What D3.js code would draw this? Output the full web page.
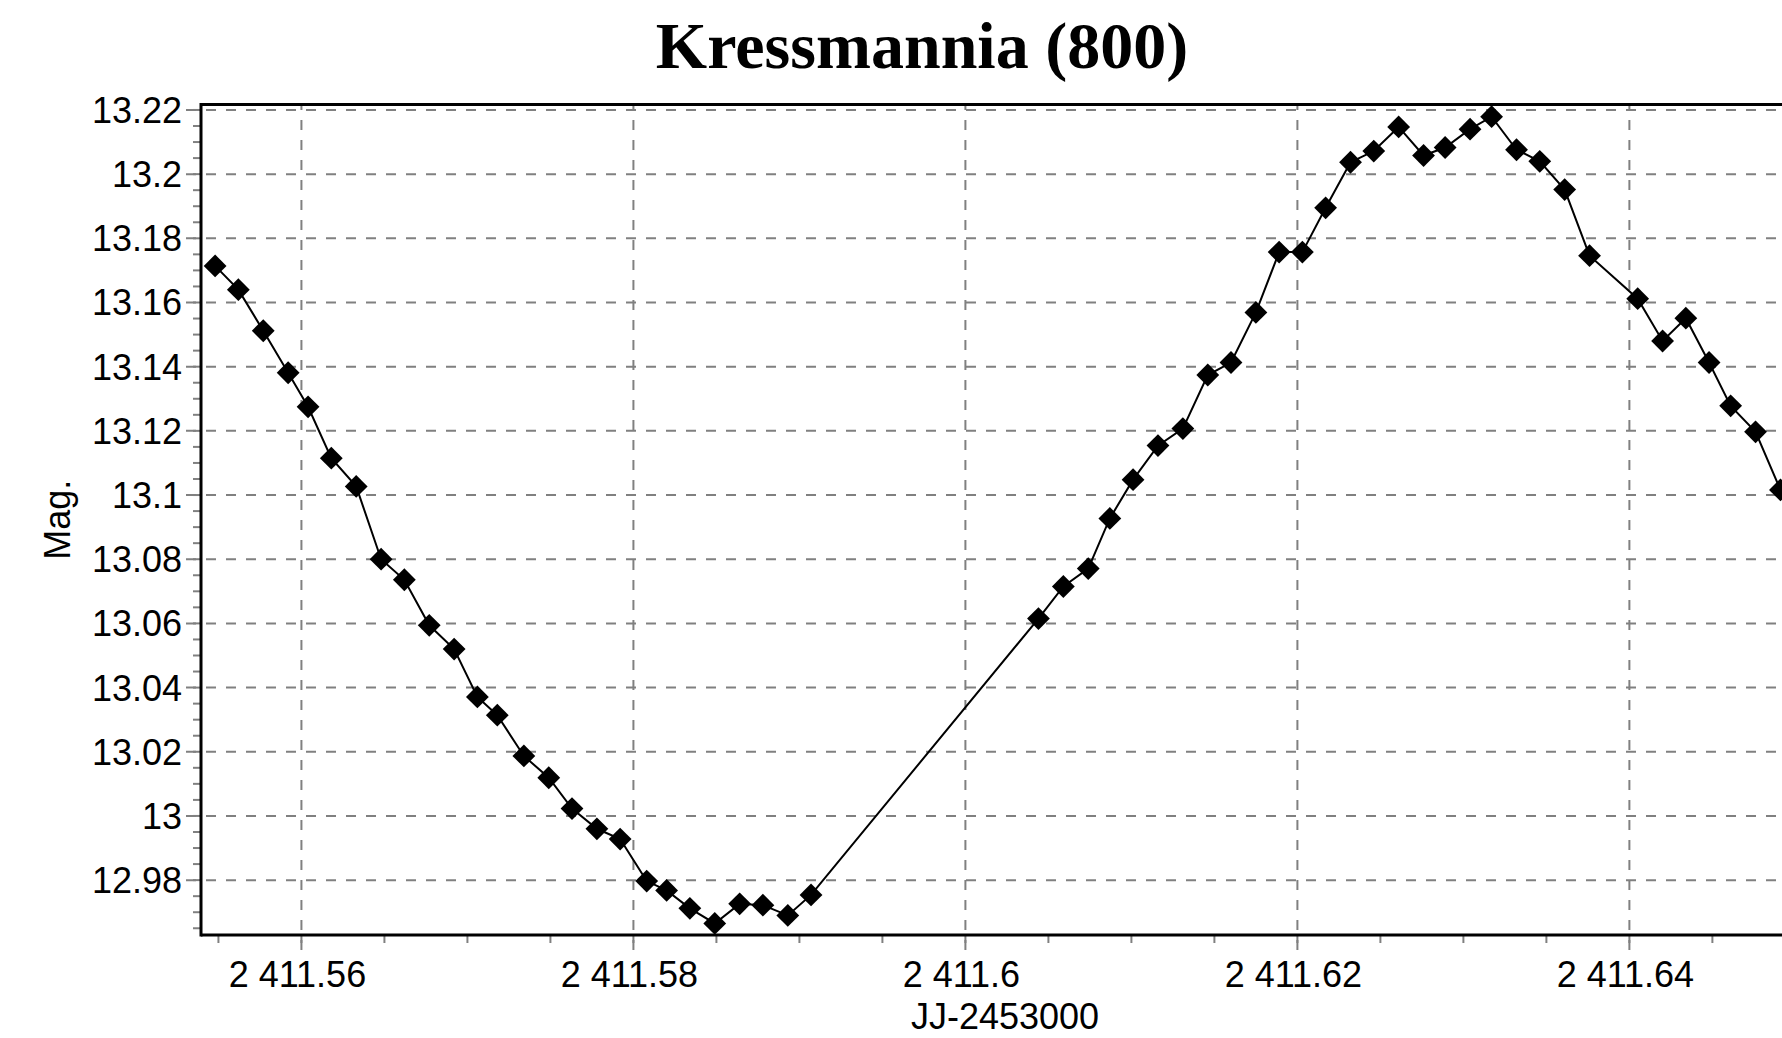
<!DOCTYPE html>
<html>
<head>
<meta charset="utf-8">
<script src="https://cdn.jsdelivr.net/npm/d3@7"></script>
<style>
  html, body { margin: 0; padding: 0; background: #fff; }
  #chart { width: 1782px; height: 1038px; overflow: hidden; }
</style>
</head>
<body>
<div id="chart"></div>
<script>
"use strict";

var jd = [
  2411.5548, 2411.5562, 2411.5577, 2411.5592, 2411.5604, 2411.5618, 2411.5633,
  2411.5648, 2411.5662, 2411.5677, 2411.5692, 2411.5706, 2411.5718, 2411.5734,
  2411.5749, 2411.5763, 2411.5778, 2411.5792, 2411.5808, 2411.5820, 2411.5834,
  2411.5849, 2411.5864, 2411.5878, 2411.5893, 2411.5907,
  2411.6044, 2411.6059, 2411.6074, 2411.6087, 2411.6101, 2411.6116, 2411.6131,
  2411.6146, 2411.6160, 2411.6175, 2411.6189, 2411.6203, 2411.6217, 2411.6232,
  2411.6246, 2411.6261, 2411.6276, 2411.6289, 2411.6304, 2411.6317, 2411.6332,
  2411.6346, 2411.6361, 2411.6376, 2411.6405, 2411.6420, 2411.6434, 2411.6448,
  2411.6461, 2411.6476, 2411.6491
];
var mag = [
  13.1714, 13.1640, 13.1512, 13.1381, 13.1275, 13.1115, 13.1027,
  13.0800, 13.0736, 13.0594, 13.0520, 13.0371, 13.0314, 13.0187,
  13.0119, 13.0023, 12.9960, 12.9928, 12.9797, 12.9768, 12.9712,
  12.9665, 12.9726, 12.9722, 12.9690, 12.9754,
  13.0615, 13.0715, 13.0771, 13.0927, 13.1048, 13.1154, 13.1207,
  13.1374, 13.1413, 13.1569, 13.1757, 13.1757, 13.1895, 13.2037,
  13.2072, 13.2147, 13.2058, 13.2083, 13.2140, 13.2179, 13.2076,
  13.2040, 13.1952, 13.1746, 13.1612, 13.1480, 13.1551, 13.1413,
  13.1278, 13.1197, 13.1016
];

var xTicks = [2411.56, 2411.58, 2411.6, 2411.62, 2411.64];
var yTicks = [12.98, 13, 13.02, 13.04, 13.06, 13.08, 13.1, 13.12, 13.14, 13.16, 13.18, 13.2, 13.22];
var xDomain = [2411.55395, 2411.65082];
var yDomain = [12.9629, 13.2217];
var minorStep = 0.005;

var title = "Kressmannia (800)";
var xTitle = "JJ-2453000";
var yTitle = "Mag.";

var svg;
var w = 1782,
  h = 1038;
var plotLeft = 201, plotTop = 104.5, plotRight = 1809, plotBottom = 935;
var x, y;
var gridColor = "#808080";
var tickFont = "'Liberation Sans', Arial, sans-serif";

var locale = d3.formatLocale({ decimal: ".", thousands: " ", grouping: [3], currency: ["", ""] });
var fmtX = locale.format(",.2~f");
var fmtY = d3.format(".2~f");

/**
 * Build the svg and the scales.
 */
var initEnvironment = function () {
  svg = d3.select("#chart").append("svg").attr("width", w).attr("height", h);
  svg.append("rect").attr("width", w).attr("height", h).attr("fill", "#fff");

  x = d3.scaleLinear().domain(xDomain).range([plotLeft, plotRight]);
  y = d3.scaleLinear().domain(yDomain).range([plotBottom, plotTop]);
};

/**
 * Minor ticks every 0.005 inside a domain.
 */
var minorTicks = function (domain) {
  var out = [];
  var start = Math.ceil(domain[0] / minorStep);
  var end = Math.floor(domain[1] / minorStep);
  for (var i = start; i <= end; i++) {
    out.push(+(i * minorStep).toFixed(4));
  }
  return out;
};

/**
 * Gridlines, ticks and labels.
 */
var drawAxes = function () {
  var g = svg.append("g");

  // minor ticks
  g.selectAll(".xminor").data(minorTicks(xDomain)).enter().append("line")
    .attr("x1", function (d) { return x(d); })
    .attr("x2", function (d) { return x(d); })
    .attr("y1", plotBottom).attr("y2", plotBottom + 8)
    .attr("stroke", gridColor).attr("stroke-width", 2);
  g.selectAll(".yminor").data(minorTicks(yDomain)).enter().append("line")
    .attr("y1", function (d) { return y(d); })
    .attr("y2", function (d) { return y(d); })
    .attr("x1", plotLeft - 8).attr("x2", plotLeft)
    .attr("stroke", gridColor).attr("stroke-width", 2);

  // major gridlines, running out past the axis as the tick
  g.selectAll(".xgrid").data(xTicks).enter().append("line")
    .attr("x1", function (d) { return x(d); })
    .attr("x2", function (d) { return x(d); })
    .attr("y1", plotBottom + 15).attr("y2", plotTop)
    .attr("stroke", gridColor).attr("stroke-width", 2)
    .attr("stroke-dasharray", "10,10");
  g.selectAll(".ygrid").data(yTicks).enter().append("line")
    .attr("y1", function (d) { return y(d); })
    .attr("y2", function (d) { return y(d); })
    .attr("x1", plotLeft - 15).attr("x2", plotRight)
    .attr("stroke", gridColor).attr("stroke-width", 2)
    .attr("stroke-dasharray", "10,10");

  // frame
  g.append("line").attr("x1", plotLeft).attr("x2", plotRight).attr("y1", plotTop).attr("y2", plotTop)
    .attr("stroke", "#000").attr("stroke-width", 3);
  g.append("line").attr("x1", plotLeft).attr("x2", plotRight).attr("y1", plotBottom).attr("y2", plotBottom)
    .attr("stroke", "#000").attr("stroke-width", 3);
  g.append("line").attr("x1", plotLeft).attr("x2", plotLeft)
    .attr("y1", plotTop - 1.5).attr("y2", plotBottom + 1.5)
    .attr("stroke", "#000").attr("stroke-width", 3);

  // labels
  g.selectAll(".xlab").data(xTicks).enter().append("text")
    .attr("x", function (d) { return x(d) - 4; })
    .attr("y", 987)
    .attr("text-anchor", "middle")
    .attr("font-family", tickFont).attr("font-size", 36)
    .text(function (d) { return fmtX(d); });
  g.selectAll(".ylab").data(yTicks).enter().append("text")
    .attr("x", 182)
    .attr("y", function (d) { return y(d) + 13; })
    .attr("text-anchor", "end")
    .attr("font-family", tickFont).attr("font-size", 36)
    .text(function (d) { return fmtY(d); });

  svg.append("text")
    .attr("x", 1005).attr("y", 1029)
    .attr("text-anchor", "middle")
    .attr("font-family", tickFont).attr("font-size", 36)
    .text(xTitle);
  svg.append("text")
    .attr("transform", "translate(70," + (plotTop + plotBottom) / 2 + ") rotate(-90)")
    .attr("text-anchor", "middle")
    .attr("font-family", tickFont).attr("font-size", 36)
    .text(yTitle);
  svg.append("text")
    .attr("x", 922).attr("y", 68)
    .attr("text-anchor", "middle")
    .attr("font-family", "'Liberation Serif', 'Times New Roman', serif")
    .attr("font-weight", "bold").attr("font-size", 66)
    .text(title);
};

/**
 * The light curve: a thin polyline with diamond markers.
 */
var drawSeries = function () {
  var pts = jd.map(function (t, i) { return [t, mag[i]]; });
  var line = d3.line()
    .x(function (d) { return x(d[0]); })
    .y(function (d) { return y(d[1]); });

  svg.append("path").datum(pts)
    .attr("d", line)
    .attr("fill", "none").attr("stroke", "#000").attr("stroke-width", 2);

  var diamond = d3.symbol().type(d3.symbolSquare).size(260);
  svg.selectAll(".pt").data(pts).enter().append("path")
    .attr("d", diamond)
    .attr("transform", function (d) {
      return "translate(" + x(d[0]) + "," + y(d[1]) + ") rotate(45)";
    })
    .attr("fill", "#000");
};

initEnvironment();
drawAxes();
drawSeries();
</script>
</body>
</html>
